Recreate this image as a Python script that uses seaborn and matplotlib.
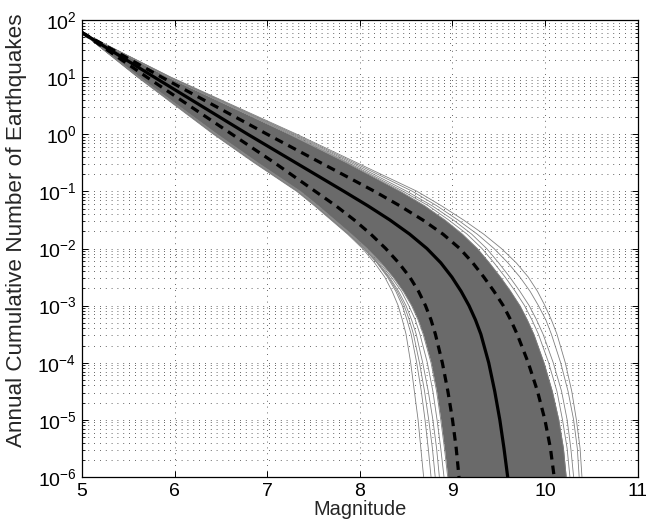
import numpy as np
import matplotlib
matplotlib.use("Agg")
import matplotlib.pyplot as plt
import seaborn as sns
from matplotlib.ticker import LogLocator, NullFormatter, FixedLocator

# ---- data: log10(annual cumulative number) levels and the magnitude of each curve there ----
log_levels = [1.78, 1.0, 0.0, -0.5, -1.0, -1.25, -1.5, -1.75, -2.0, -2.25,
              -2.5, -2.75, -3.0, -3.25, -3.5, -4.0, -4.5, -5.0, -5.5, -6.0]

median_M     = [5.00, 5.78, 6.79, 7.31, 7.83, 8.085, 8.325, 8.54, 8.725, 8.875,
                8.995, 9.095, 9.18, 9.25, 9.308, 9.393, 9.458, 9.513, 9.558, 9.598]
upper_dash_M = [5.00, 5.86, 7.00, 7.58, 8.16, 8.43, 8.68, 8.90, 9.08, 9.22,
                9.34, 9.45, 9.55, 9.63, 9.70, 9.82, 9.92, 10.00, 10.06, 10.10]
lower_dash_M = [5.00, 5.70, 6.62, 7.08, 7.52, 7.74, 7.94, 8.12, 8.28, 8.42,
                8.54, 8.635, 8.71, 8.77, 8.817, 8.892, 8.952, 9.002, 9.042, 9.072]

# dense part of the ensemble
band_upper_M = [5.00, 5.93, 7.24, 7.86, 8.44, 8.70, 8.92, 9.11, 9.27, 9.40,
                9.52, 9.63, 9.73, 9.81, 9.88, 9.99, 10.08, 10.15, 10.20, 10.23]
band_lower_M = [5.00, 5.62, 6.46, 6.90, 7.36, 7.55, 7.73, 7.91, 8.08, 8.23,
                8.36, 8.47, 8.56, 8.63, 8.685, 8.77, 8.83, 8.875, 8.915, 8.95]

# individual ensemble members visible outside the dense band
fan_upper_1 = [5.00, 5.95, 7.28, 7.91, 8.51, 8.78, 9.01, 9.21, 9.37, 9.50,
               9.62, 9.73, 9.83, 9.91, 9.98, 10.09, 10.18, 10.24, 10.28, 10.31]
fan_upper_2 = [5.00, 5.94, 7.26, 7.88, 8.47, 8.74, 8.96, 9.16, 9.32, 9.45,
               9.57, 9.68, 9.78, 9.86, 9.93, 10.04, 10.13, 10.19, 10.24, 10.27]
fan_upper_3 = [5.00, 5.96, 7.32, 7.97, 8.62, 8.88, 9.12, 9.34, 9.53, 9.69,
               9.82, 9.92, 10.00, 10.07, 10.13, 10.22, 10.29, 10.34, 10.38, 10.40]
fan_upper_4 = [5.00, 5.95, 7.30, 7.94, 8.57, 8.83, 9.06, 9.27, 9.45, 9.60,
               9.73, 9.84, 9.93, 10.01, 10.07, 10.17, 10.25, 10.31, 10.35, 10.37]
fan_lower_1 = [5.00, 5.60, 6.42, 6.86, 7.32, 7.51, 7.69, 7.87, 8.03, 8.16,
               8.27, 8.35, 8.415, 8.46, 8.50, 8.55, 8.59, 8.63, 8.66, 8.69]
fan_lower_2 = [5.00, 5.61, 6.43, 6.87, 7.33, 7.52, 7.70, 7.88, 8.045, 8.185,
               8.30, 8.39, 8.46, 8.51, 8.555, 8.615, 8.665, 8.705, 8.74, 8.77]
fan_lower_3 = [5.00, 5.61, 6.43, 6.87, 7.33, 7.52, 7.70, 7.88, 8.05, 8.19,
               8.31, 8.405, 8.48, 8.535, 8.58, 8.645, 8.70, 8.745, 8.785, 8.815]
fan_lower_4 = [5.00, 5.61, 6.44, 6.88, 7.34, 7.53, 7.71, 7.89, 8.06, 8.20,
               8.32, 8.42, 8.50, 8.56, 8.61, 8.68, 8.74, 8.79, 8.83, 8.86]
fan_lower_5 = [5.00, 5.62, 6.45, 6.89, 7.35, 7.54, 7.72, 7.90, 8.07, 8.215,
               8.34, 8.45, 8.53, 8.60, 8.65, 8.73, 8.79, 8.835, 8.875, 8.91]

x_ticks = [5, 6, 7, 8, 9, 10, 11]
x_label = "Magnitude"
y_label = "Annual Cumulative Number of Earthquakes"

# ---- style ----
sns.set_theme(style="white")
plt.rcParams["font.family"] = ["Liberation Sans", "DejaVu Sans"]
plt.rcParams["mathtext.fontset"] = "custom"
plt.rcParams["mathtext.rm"] = "Liberation Sans"
plt.rcParams["mathtext.it"] = "Liberation Sans:italic"
plt.rcParams["mathtext.default"] = "regular"

fig = plt.figure(figsize=(6.46, 5.27), dpi=100)
ax = fig.add_axes([82 / 646, 50 / 527, (637.5 - 82) / 646, (477 - 20) / 527])
ax.set_yscale("log")

N = np.power(10.0, np.array(log_levels))

grey_fill = "#6a6a6a"
grey_line = "#808080"

ax.fill_betweenx(N, band_lower_M, band_upper_M, color=grey_fill, lw=0, zorder=2)

for fan in [fan_upper_1, fan_upper_2, fan_upper_3, fan_upper_4,
            fan_lower_1, fan_lower_2, fan_lower_3, fan_lower_4, fan_lower_5,
            band_upper_M, band_lower_M]:
    sns.lineplot(x=fan, y=N, sort=False, estimator=None, ax=ax,
                 color=grey_line, lw=0.6, zorder=3)

sns.lineplot(x=median_M, y=N, sort=False, estimator=None, ax=ax,
             color="black", lw=2.3, zorder=5)
for d in [upper_dash_M, lower_dash_M]:
    sns.lineplot(x=d, y=N, sort=False, estimator=None, ax=ax,
                 color="black", lw=2.3, zorder=5,
                 linestyle=(0, (2.7, 1.9)))

ax.set_xlim(5, 11)
ax.set_ylim(1e-6, 1e2)
ax.xaxis.set_major_locator(FixedLocator(x_ticks))
ax.yaxis.set_major_locator(LogLocator(base=10, numticks=20))
ax.yaxis.set_minor_locator(LogLocator(base=10, subs=np.arange(2, 10), numticks=20))
ax.yaxis.set_minor_formatter(NullFormatter())

grid_kw = dict(color="#333333", linestyle=(0, (1, 6)), linewidth=0.6)
ax.grid(True, which="major", axis="both", **grid_kw)
ax.grid(True, which="minor", axis="y", **grid_kw)
ax.set_axisbelow(True)

for s in ax.spines.values():
    s.set_visible(True)
    s.set_color("black")
    s.set_linewidth(0.9)

ax.tick_params(which="both", direction="in", top=True, right=True,
               bottom=True, left=True, colors="black", labelsize=14)
ax.tick_params(which="major", length=4, width=0.7)
ax.tick_params(which="minor", length=2.5, width=0.6)
ax.tick_params(axis="x", pad=4)
ax.tick_params(axis="y", pad=4)

ax.set_xlabel(x_label, fontsize=14.4, labelpad=0)
ax.set_ylabel(y_label, fontsize=16.2)
ax.yaxis.set_label_coords(-0.099, 0.54)

fig.savefig("out.png", dpi=100)
